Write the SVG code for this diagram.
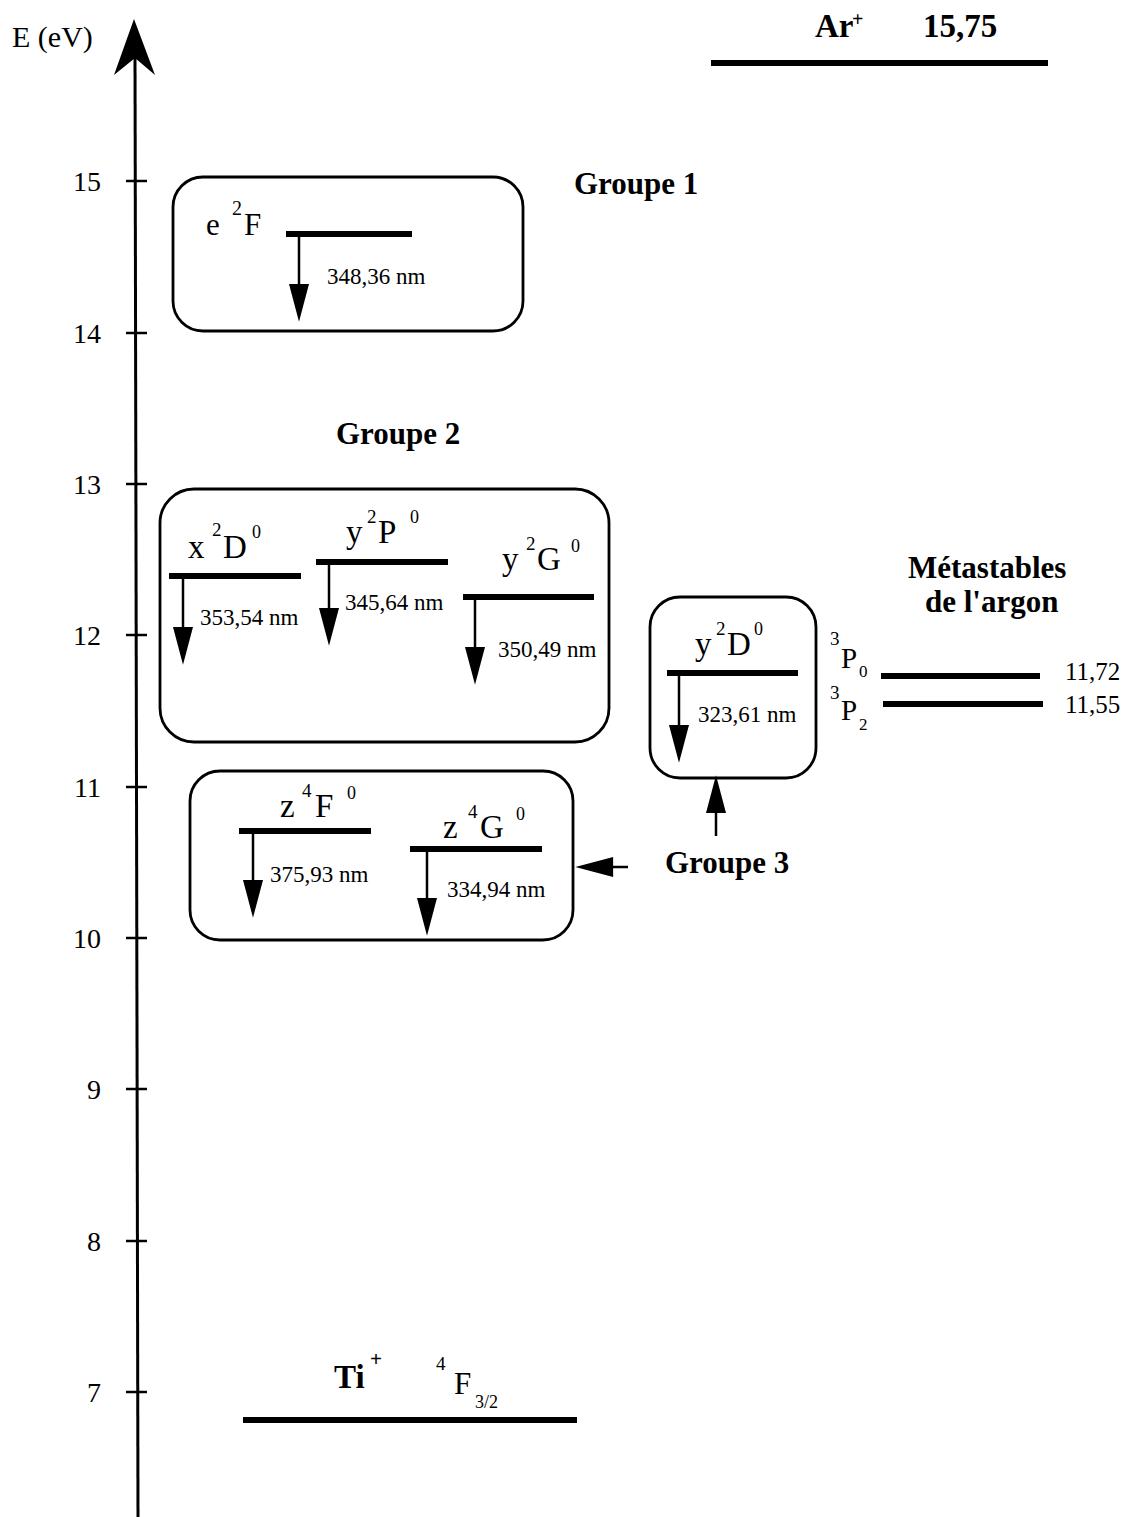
<svg xmlns="http://www.w3.org/2000/svg" width="1135" height="1517" viewBox="0 0 1135 1517">
<style>
text{font-family:"Liberation Serif","Times New Roman",serif;fill:#000}
.b{font-weight:bold}
.ax{font-size:28px}
.grp{font-size:31px;font-weight:bold}
.st{font-size:33px}
.sup{font-size:19px}
.sup0{font-size:18px}
.nm{font-size:23px}
.box{fill:none;stroke:#000;stroke-width:2.8}
.lvl{stroke:#000;stroke-width:6}
.arr{stroke:#000;stroke-width:2.5;fill:none;marker-end:url(#ah)}
.tick{stroke:#000;stroke-width:2.5}
</style>
<defs>
<marker id="ah" markerUnits="userSpaceOnUse" markerWidth="40" markerHeight="20" viewBox="0 0 34 18" refX="10" refY="9" orient="auto">
<path d="M0,0 L34,9 L0,18 z" fill="#000"/>
</marker>
</defs>

<g id="axis">
<line x1="135" y1="58" x2="138" y2="1517" stroke="#000" stroke-width="3"/>
<path d="M134,19 L155,75 L135,58 L114,75 z" fill="#000"/>
<text x="12" y="47" style="font-size:30px">E (eV)</text>
<g class="ticks">
<line class="tick" x1="126" y1="181" x2="147" y2="181"/>
<line class="tick" x1="126" y1="333" x2="147" y2="333"/>
<line class="tick" x1="126" y1="484" x2="147" y2="484"/>
<line class="tick" x1="126" y1="635" x2="147" y2="635"/>
<line class="tick" x1="126" y1="787" x2="147" y2="787"/>
<line class="tick" x1="126" y1="938" x2="147" y2="938"/>
<line class="tick" x1="126" y1="1089" x2="147" y2="1089"/>
<line class="tick" x1="126" y1="1241" x2="147" y2="1241"/>
<line class="tick" x1="126" y1="1392" x2="147" y2="1392"/>
</g>
<g text-anchor="end">
<text class="ax" x="101" y="191">15</text>
<text class="ax" x="101" y="343">14</text>
<text class="ax" x="101" y="494">13</text>
<text class="ax" x="101" y="645">12</text>
<text class="ax" x="101" y="797">11</text>
<text class="ax" x="101" y="948">10</text>
<text class="ax" x="101" y="1099">9</text>
<text class="ax" x="101" y="1251">8</text>
<text class="ax" x="101" y="1402">7</text>
</g>
</g>

<g id="ar-ion">
<text class="b" x="815" y="37" style="font-size:33px">Ar</text>
<text class="b" x="852" y="26" style="font-size:20px">+</text>
<text class="b" x="923" y="37" style="font-size:33px">15,75</text>
<line class="lvl" x1="711" y1="63" x2="1048" y2="63"/>
</g>

<g id="groupe1">
<text class="grp" x="574" y="194">Groupe 1</text>
<rect class="box" x="173" y="177" width="350" height="154" rx="30"/>
<text x="206" y="235" style="font-size:31px">e</text>
<text class="sup" x="232" y="215" style="font-size:20px">2</text>
<text x="244" y="235" style="font-size:31px">F</text>
<line class="lvl" x1="286" y1="234" x2="412" y2="234"/>
<text class="nm" x="327" y="284">348,36 nm</text>
</g>

<g id="groupe2">
<text class="grp" x="336" y="444">Groupe 2</text>
<rect class="box" x="160" y="489" width="449" height="253" rx="34"/>
<text class="st" x="188" y="558">x</text>
<text class="sup" x="212" y="536">2</text>
<text class="st" x="223" y="558">D</text>
<text class="sup0" x="252" y="538">0</text>
<line class="lvl" x1="169" y1="576" x2="301" y2="576"/>
<text class="nm" x="200" y="625">353,54 nm</text>

<text class="st" x="346" y="543">y</text>
<text class="sup" x="367" y="523">2</text>
<text class="st" x="378" y="543">P</text>
<text class="sup0" x="410" y="523">0</text>
<line class="lvl" x1="316" y1="562" x2="448" y2="562"/>
<text class="nm" x="345" y="610">345,64 nm</text>

<text class="st" x="502" y="570">y</text>
<text class="sup" x="526" y="550">2</text>
<text class="st" x="537" y="570">G</text>
<text class="sup0" x="571" y="552">0</text>
<line class="lvl" x1="463" y1="597" x2="594" y2="597"/>
<text class="nm" x="498" y="657">350,49 nm</text>
</g>

<g id="groupe-z">
<rect class="box" x="190" y="771" width="383" height="169" rx="30"/>
<text class="st" x="280" y="817">z</text>
<text class="sup" x="302" y="797">4</text>
<text class="st" x="315" y="817">F</text>
<text class="sup0" x="347" y="799">0</text>
<line class="lvl" x1="239" y1="831" x2="371" y2="831"/>
<text class="nm" x="270" y="882">375,93 nm</text>

<text class="st" x="443" y="838">z</text>
<text class="sup" x="468" y="818">4</text>
<text class="st" x="480" y="838">G</text>
<text class="sup0" x="516" y="820">0</text>
<line class="lvl" x1="410" y1="849" x2="542" y2="849"/>
<text class="nm" x="447" y="897">334,94 nm</text>
</g>

<g id="groupe3">
<rect class="box" x="650" y="597" width="166" height="181" rx="30"/>
<text class="st" x="695" y="655">y</text>
<text class="sup" x="716" y="635">2</text>
<text class="st" x="727" y="655">D</text>
<text class="sup0" x="754" y="635">0</text>
<line class="lvl" x1="667" y1="673" x2="798" y2="673"/>
<text class="nm" x="698" y="722">323,61 nm</text>
<text class="grp" x="665" y="873">Groupe 3</text>
</g>

<g id="metastables">
<text class="grp" x="908" y="578">Métastables</text>
<text class="grp" x="925" y="612">de l'argon</text>
<text x="830" y="645" style="font-size:19px">3</text>
<text x="841" y="668" style="font-size:29px">P</text>
<text x="859" y="677" style="font-size:17px">0</text>
<line class="lvl" x1="881" y1="676" x2="1040" y2="676"/>
<text x="1065" y="680" style="font-size:25px">11,72</text>
<text x="830" y="699" style="font-size:19px">3</text>
<text x="841" y="720" style="font-size:29px">P</text>
<text x="859" y="730" style="font-size:17px">2</text>
<line class="lvl" x1="883" y1="704" x2="1043" y2="704"/>
<text x="1065" y="713" style="font-size:25px">11,55</text>
</g>

<g id="ti-ion">
<text class="b" x="334" y="1388" style="font-size:33px">Ti</text>
<text class="b" x="370" y="1366" style="font-size:21px">+</text>
<text x="436" y="1370" style="font-size:19px">4</text>
<text x="454" y="1394" style="font-size:31px">F</text>
<text x="475" y="1408" style="font-size:18px">3/2</text>
<line class="lvl" x1="243" y1="1420" x2="577" y2="1420"/>
</g>

<g id="connectors">
<line class="arr" x1="299" y1="234" x2="299" y2="295"/>
<line class="arr" x1="183" y1="576" x2="183" y2="638"/>
<line class="arr" x1="329" y1="562" x2="329" y2="619"/>
<line class="arr" x1="475" y1="597" x2="475" y2="658"/>
<line class="arr" x1="253" y1="831" x2="253" y2="891"/>
<line class="arr" x1="427" y1="849" x2="427" y2="909"/>
<line class="arr" x1="679" y1="673" x2="679" y2="736"/>
<line class="arr" x1="716" y1="836" x2="716" y2="802"/>
<line class="arr" x1="628" y1="867" x2="602" y2="867"/>
</g>
</svg>
